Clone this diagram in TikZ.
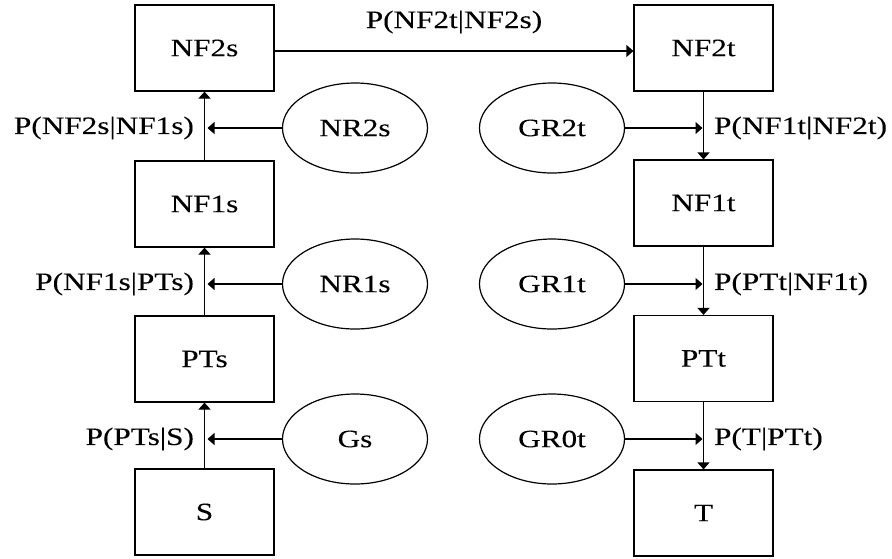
\documentclass[tikz,border=0pt]{standalone}
\usepackage{fontspec}
\setmainfont{Liberation Serif}[FakeStretch=1.25,FakeBold=0.15]
\usetikzlibrary{arrows.meta,shapes.geometric}
\begin{document}
\begin{tikzpicture}[x=1pt,y=-1pt,
  every node/.style={font=\fontsize{25}{28}\selectfont},
  box/.style={draw,line width=1.2pt,minimum width=139pt,minimum height=86pt,inner sep=0pt},
  oval/.style={draw,ellipse,line width=1.2pt,minimum width=145pt,minimum height=90pt,inner sep=0pt},
  arr/.style={line width=1.2pt,-{Triangle[length=7pt,width=12pt]}},
  lbl/.style={inner sep=0pt}]
\useasboundingbox (0,0) rectangle (892,558);
% left column
\node[box] (NF2s) at (204.5,48) {NF2s};
\node[box] (NF1s) at (204.5,204) {NF1s};
\node[box] (PTs) at (204.5,359) {PTs};
\node[box] (S) at (204.5,512) {S};
% right column
\node[box] (NF2t) at (703.5,48) {NF2t};
\node[box] (NF1t) at (703.5,203) {NF1t};
\node[box] (PTt) at (703.5,358.5) {PTt};
\node[box] (T) at (703.5,513) {T};
% ellipses
\node[oval] (NR2s) at (355,128) {NR2s};
\node[oval] (NR1s) at (355,284) {NR1s};
\node[oval] (Gs) at (355,439) {Gs};
\node[oval] (GR2t) at (552,128) {GR2t};
\node[oval] (GR1t) at (552,284) {GR1t};
\node[oval] (GR0t) at (552,439) {GR0t};
% vertical arrows
\draw[arr] (NF1s.north) -- (NF2s.south);
\draw[arr] (PTs.north) -- (NF1s.south);
\draw[arr] (S.north) -- (PTs.south);
\draw[arr] (NF2t.south) -- (NF1t.north);
\draw[arr] (NF1t.south) -- (PTt.north);
\draw[arr] (PTt.south) -- (T.north);
% top arrow
\draw[arr] ([yshift=-3pt]NF2s.east) -- ([yshift=-3pt]NF2t.west)
  node[lbl,midway,anchor=base,yshift=23pt] (l0) {P(NF2t|NF2s)};
% left horizontal arrows with labels
\draw[arr,shorten >=3pt] (NR2s.west) -- (NR2s.west -| NF2s.south)
  node[lbl,pos=1,anchor=east,xshift=-10pt] (l1) {P(NF2s|NF1s)};
\draw[arr,shorten >=3pt] (NR1s.west) -- (NR1s.west -| NF1s.south)
  node[lbl,pos=1,anchor=east,xshift=-10pt] (l2) {P(NF1s|PTs)};
\draw[arr,shorten >=3pt] (Gs.west) -- (Gs.west -| PTs.south)
  node[lbl,pos=1,anchor=east,xshift=-10pt] (l3) {P(PTs|S)};
% right horizontal arrows with labels
\draw[arr,shorten >=1pt] (GR2t.east) -- (GR2t.east -| NF2t.south)
  node[lbl,pos=1,anchor=west,xshift=10pt] (r1) {P(NF1t|NF2t)};
\draw[arr,shorten >=1pt] (GR1t.east) -- (GR1t.east -| NF1t.south)
  node[lbl,pos=1,anchor=west,xshift=10pt] (r2) {P(PTt|NF1t)};
\draw[arr,shorten >=1pt] (GR0t.east) -- (GR0t.east -| PTt.south)
  node[lbl,pos=1,anchor=west,xshift=10pt] (r3) {P(T|PTt)};
\end{tikzpicture}
\end{document}
